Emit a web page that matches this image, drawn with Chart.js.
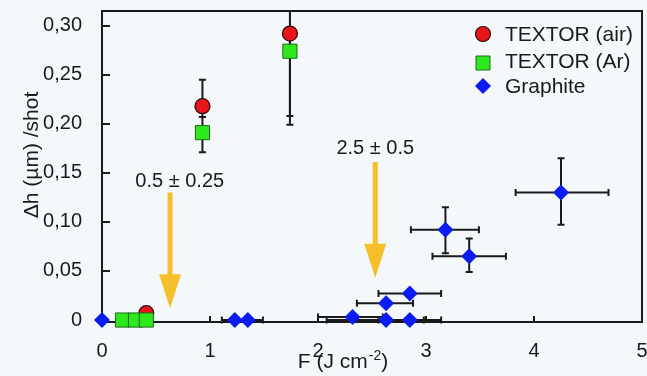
<!DOCTYPE html>
<html>
<head>
<meta charset="utf-8">
<script src="https://cdn.jsdelivr.net/npm/chart.js@4.4.1/dist/chart.umd.min.js"></script>
<style>
  html, body { margin: 0; padding: 0; background: #f4f8fb; }
  #wrap { width: 647px; height: 376px; }
</style>
</head>
<body>
<div id="wrap"><canvas id="c" width="647" height="376"></canvas></div>
<script>
// ---- data ----
const xTicks = [0, 1, 2, 3, 4, 5];
const yTicks = [0, 0.05, 0.10, 0.15, 0.20, 0.25, 0.30];

const airF   = [0.41, 0.93, 1.74];
const airH   = [0.007, 0.218, 0.292];
const airHLo = [null, 0.207, 0.208];
const airHHi = [null, 0.245, 0.36];

const arF   = [0.19, 0.31, 0.41, 0.93, 1.74];
const arH   = [0, 0, 0, 0.191, 0.274];
const arHLo = [null, null, null, 0.171, 0.199];
const arHHi = [null, null, null, 0.207, 0.290];

const graF   = [0, 1.23, 1.35, 2.32, 2.63, 2.85, 2.63, 2.85, 3.18, 3.40, 4.25];
const graH   = [0, 0, 0, 0.003, 0, 0, 0.017, 0.027, 0.092, 0.065, 0.130];
const graFLo = [null, 1.11, 1.23, 2.00, 2.08, 2.56, 2.36, 2.56, 2.86, 3.06, 3.83];
const graFHi = [null, 1.35, 1.49, 2.60, 2.98, 3.14, 2.88, 3.14, 3.49, 3.74, 4.69];
const graHLo = [null, null, null, null, null, null, null, null, 0.068, 0.049, 0.097];
const graHHi = [null, null, null, null, null, null, null, null, 0.115, 0.083, 0.165];

const seriesNames = ['TEXTOR (air)', 'TEXTOR (Ar)', 'Graphite'];
const xTitle = ['F (J cm', '-2', ')'];
const yTitle = '\u0394h (\u00b5m) /shot';

const annotations = [
  { label: '0.5 \u00b1 0.25', f: 0.63, top: 0.130, tip: 0.012, labelF: 0.72, labelH: 0.141 },
  { label: '2.5 \u00b1 0.5',  f: 2.53, top: 0.161, tip: 0.043, labelF: 2.53, labelH: 0.175 }
];

function pts(F, H, FLo, FHi, HLo, HHi) {
  return F.map((x, i) => ({
    x: x, y: H[i],
    xLo: FLo ? FLo[i] : null, xHi: FHi ? FHi[i] : null,
    yLo: HLo ? HLo[i] : null, yHi: HHi ? HHi[i] : null
  }));
}

const FONT = "'Liberation Sans', Arial, sans-serif";
const INK = '#1a1a1a';

const bgPlugin = {
  id: 'bg',
  beforeDraw(chart) {
    const ctx = chart.ctx;
    ctx.save();
    ctx.fillStyle = '#f4f8fb';
    ctx.fillRect(0, 0, chart.width, chart.height);
    ctx.restore();
  }
};

const titlesPlugin = {
  id: 'titles',
  afterDraw(chart) {
    const ctx = chart.ctx;
    ctx.save();
    ctx.fillStyle = INK;
    ctx.font = '21px ' + FONT;
    ctx.textBaseline = 'alphabetic';
    ctx.textAlign = 'left';
    const w0 = ctx.measureText(xTitle[0]).width;
    ctx.font = '14px ' + FONT;
    const w1 = ctx.measureText(xTitle[1]).width;
    ctx.font = '21px ' + FONT;
    const w2 = ctx.measureText(xTitle[2]).width;
    const total = w0 + w1 + w2 + 1;
    let x = 343 - total / 2;
    const base = 368;
    ctx.fillText(xTitle[0], x, base); x += w0 + 1;
    ctx.font = '14px ' + FONT;
    ctx.fillText(xTitle[1], x, base - 8); x += w1;
    ctx.font = '21px ' + FONT;
    ctx.fillText(xTitle[2], x, base);
    ctx.translate(32, 155);
    ctx.rotate(-Math.PI / 2);
    ctx.textAlign = 'center'; ctx.textBaseline = 'middle';
    ctx.fillText(yTitle, 0, 0);
    ctx.restore();
  }
};

const framePlugin = {
  id: 'frame',
  beforeDatasetsDraw(chart) {
    const ctx = chart.ctx, a = chart.chartArea;
    const xs = chart.scales.x, ys = chart.scales.y;
    ctx.save();
    ctx.strokeStyle = INK; ctx.lineWidth = 2;
    ys.ticks.forEach(t => {
      if (t.value === 0) return;
      const py = Math.round(ys.getPixelForValue(t.value));
      ctx.beginPath(); ctx.moveTo(a.left, py); ctx.lineTo(a.left + 8, py); ctx.stroke();
    });
    xs.ticks.forEach(t => {
      const px = Math.round(xs.getPixelForValue(t.value));
      ctx.beginPath(); ctx.moveTo(px, a.bottom); ctx.lineTo(px, a.bottom - 6); ctx.stroke();
    });
    ctx.lineWidth = 2;
    ctx.strokeRect(a.left, a.top, a.right - a.left, a.bottom - a.top);

    annotations.forEach(an => {
      const x = xs.getPixelForValue(an.f);
      const yTop = ys.getPixelForValue(an.top);
      const yTip = ys.getPixelForValue(an.tip);
      const headLen = 34, headW = 11;
      ctx.fillStyle = '#f4bf2a';
      ctx.fillRect(x - 2.5, yTop, 5, (yTip - headLen) - yTop + 2);
      ctx.beginPath();
      ctx.moveTo(x - headW, yTip - headLen);
      ctx.lineTo(x + headW, yTip - headLen);
      ctx.lineTo(x, yTip);
      ctx.closePath(); ctx.fill();
      ctx.fillStyle = INK;
      ctx.font = '20px ' + FONT;
      ctx.textAlign = 'center'; ctx.textBaseline = 'middle';
      ctx.fillText(an.label, xs.getPixelForValue(an.labelF), ys.getPixelForValue(an.labelH));
    });

    ctx.beginPath();
    ctx.rect(a.left - 10, a.top, a.right - a.left + 20, a.bottom - a.top + 10);
    ctx.clip();
    ctx.strokeStyle = INK; ctx.lineWidth = 2;
    const cap = 3.5;
    chart.data.datasets.forEach(ds => {
      ds.data.forEach(p => {
        const px = xs.getPixelForValue(p.x), py = ys.getPixelForValue(p.y);
        if (p.yLo != null && p.yHi != null) {
          const y1 = ys.getPixelForValue(p.yLo), y2 = ys.getPixelForValue(p.yHi);
          ctx.beginPath();
          ctx.moveTo(px, y1); ctx.lineTo(px, y2);
          ctx.moveTo(px - cap, y1); ctx.lineTo(px + cap, y1);
          ctx.moveTo(px - cap, y2); ctx.lineTo(px + cap, y2);
          ctx.stroke();
        }
        if (p.xLo != null && p.xHi != null) {
          const x1 = xs.getPixelForValue(p.xLo), x2 = xs.getPixelForValue(p.xHi);
          ctx.beginPath();
          ctx.moveTo(x1, py); ctx.lineTo(x2, py);
          ctx.moveTo(x1, py - cap); ctx.lineTo(x1, py + cap);
          ctx.moveTo(x2, py - cap); ctx.lineTo(x2, py + cap);
          ctx.stroke();
        }
      });
    });
    ctx.restore();
  }
};

const legendPlugin = {
  id: 'customLegend',
  afterDraw(chart) {
    const ctx = chart.ctx;
    const items = chart.data.datasets.slice().sort((p, q) => p.legendIndex - q.legendIndex);
    const x0 = 483, tx = 505, ys = [34, 61, 86];
    ctx.save();
    items.forEach((ds, i) => {
      const y = ys[i];
      ctx.fillStyle = ds.backgroundColor;
      ctx.strokeStyle = ds.borderColor;
      ctx.lineWidth = ds.borderWidth;
      ctx.beginPath();
      if (ds.pointStyle === 'circle') {
        ctx.arc(x0, y, 7.5, 0, Math.PI * 2);
      } else if (ds.pointStyle === 'rect') {
        ctx.rect(x0 - 7, y - 7 + 2, 14, 14);
      } else {
        ctx.moveTo(x0, y - 8); ctx.lineTo(x0 + 8, y); ctx.lineTo(x0, y + 8); ctx.lineTo(x0 - 8, y); ctx.closePath();
      }
      ctx.fill();
      if (ds.borderWidth > 0) ctx.stroke();
      ctx.fillStyle = INK;
      ctx.font = '21px ' + FONT;
      ctx.textAlign = 'left'; ctx.textBaseline = 'middle';
      ctx.fillText(ds.label, tx, y + 1);
    });
    ctx.restore();
  }
};

new Chart(document.getElementById('c'), {
  type: 'scatter',
  data: {
    datasets: [
      {
        label: seriesNames[0], legendIndex: 0, order: 3,
        data: pts(airF, airH, null, null, airHLo, airHHi),
        pointStyle: 'circle', pointRadius: 7.5, pointHoverRadius: 7.5,
        backgroundColor: '#e8161c', borderColor: '#2a0a0a', borderWidth: 1.2, clip: false
      },
      {
        label: seriesNames[1], legendIndex: 1, order: 2,
        data: pts(arF, arH, null, null, arHLo, arHHi),
        pointStyle: 'rect', pointRadius: 10, pointHoverRadius: 10,
        backgroundColor: '#2ee81e', borderColor: '#1d6a18', borderWidth: 1, clip: false
      },
      {
        label: seriesNames[2], legendIndex: 2, order: 1,
        data: pts(graF, graH, graFLo, graFHi, graHLo, graHHi),
        pointStyle: 'rectRot', pointRadius: 8, pointHoverRadius: 8,
        backgroundColor: '#0a1cf2', borderColor: '#0a1cf2', borderWidth: 0, clip: false
      }
    ]
  },
  options: {
    responsive: false,
    animation: false,
    devicePixelRatio: 1,
    layout: { autoPadding: false, padding: { top: 11, right: 5, left: 0, bottom: 0 } },
    plugins: { legend: { display: false }, tooltip: { enabled: false } },
    scales: {
      x: {
        type: 'linear', min: 0, max: 5,
        afterBuildTicks: s => { s.ticks = xTicks.map(v => ({ value: v })); },
        afterFit: s => { s.height = 54; s.paddingLeft = 0; s.paddingRight = 0; s.paddingTop = 0; s.paddingBottom = 0; },
        grid: { display: false },
        border: { display: false },
        ticks: { color: INK, font: { family: FONT, size: 20 }, padding: 9, maxRotation: 0,
                 callback: v => String(v) },
        title: { display: false }
      },
      y: {
        type: 'linear', min: -0.002, max: 0.315,
        afterBuildTicks: s => { s.ticks = yTicks.map(v => ({ value: v })); },
        afterFit: s => { s.width = 102; s.paddingLeft = 0; s.paddingRight = 0; s.paddingTop = 0; s.paddingBottom = 0; },
        grid: { display: false },
        border: { display: false },
        ticks: { color: INK, font: { family: FONT, size: 20 }, padding: 12,
                 callback: v => v === 0 ? '0' : v.toFixed(2).replace('.', ',') },
        title: { display: false }
      }
    }
  },
  plugins: [bgPlugin, framePlugin, legendPlugin, titlesPlugin]
});
</script>
</body>
</html>
